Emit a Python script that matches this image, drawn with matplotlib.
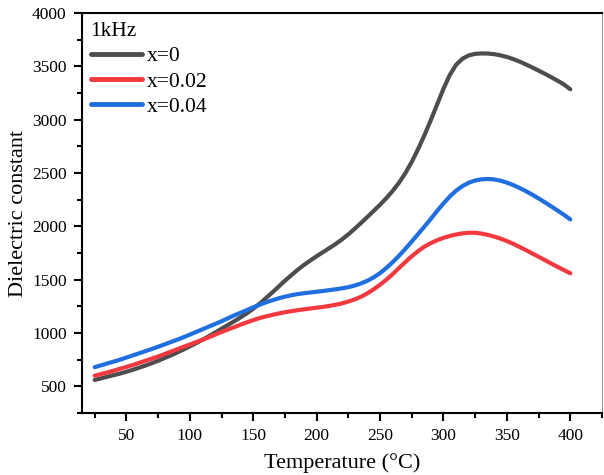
import matplotlib
matplotlib.use("Agg")
import matplotlib.pyplot as plt
from matplotlib.ticker import MultipleLocator

plt.rcParams['font.family'] = ['Liberation Serif', 'DejaVu Serif']

temperature = list(range(25, 401, 5))

eps_x0 = [560, 575, 590, 605, 620, 637, 655, 675, 695, 717, 740, 765, 790, 817, 845,
          875, 905, 937, 970, 1005, 1040, 1075, 1110, 1147, 1185, 1228, 1275, 1327,
          1380, 1435, 1490, 1542, 1592, 1638, 1680, 1720, 1758, 1796, 1835, 1878, 1925,
          1977, 2032, 2088, 2145, 2203, 2265, 2333, 2410, 2500, 2605, 2725, 2855, 2995,
          3143, 3290, 3420, 3515, 3572, 3603, 3617, 3621, 3620, 3614, 3603, 3588, 3568,
          3545, 3518, 3490, 3460, 3430, 3398, 3365, 3330, 3285]

eps_x002 = [600, 615, 630, 647, 665, 682, 700, 720, 740, 760, 780, 802, 825, 847, 870,
            892, 915, 937, 960, 985, 1010, 1033, 1055, 1078, 1100, 1121, 1140, 1156,
            1170, 1183, 1195, 1205, 1214, 1222, 1230, 1237, 1245, 1254, 1265, 1278, 1295,
            1315, 1340, 1372, 1410, 1453, 1500, 1553, 1610, 1666, 1720, 1768, 1810, 1843,
            1870, 1892, 1910, 1924, 1934, 1940, 1940, 1932, 1920, 1904, 1885, 1862, 1836,
            1807, 1777, 1746, 1715, 1683, 1651, 1620, 1590, 1560]

eps_x004 = [680, 697, 715, 732, 750, 770, 790, 810, 830, 850, 871, 893, 915, 937, 960,
            985, 1010, 1035, 1060, 1085, 1110, 1138, 1165, 1190, 1215, 1241, 1265, 1287,
            1307, 1325, 1341, 1354, 1365, 1373, 1380, 1387, 1394, 1402, 1410, 1419, 1430,
            1445, 1465, 1490, 1522, 1562, 1610, 1665, 1725, 1790, 1858, 1928, 1998, 2070,
            2145, 2215, 2280, 2335, 2378, 2410, 2430, 2441, 2444, 2440, 2428, 2410, 2387,
            2360, 2330, 2297, 2262, 2225, 2187, 2148, 2108, 2065]

labels = ["x=0", "x=0.02", "x=0.04"]
colors = ["#4d4d4d", "#f2393f", "#1f6fe0"]

fig = plt.figure(figsize=(6.04, 4.75), dpi=100)
ax = fig.add_axes([0.1358, 0.1305, 0.8609, 0.8421])

for y, lab, c in zip([eps_x0, eps_x002, eps_x004], labels, colors):
    ax.plot(temperature, y, color=c, lw=3.0, label=lab,
            solid_capstyle='round', solid_joinstyle='round')

ax.set_xlim(15, 425)
ax.set_ylim(250, 4000)
ax.xaxis.set_minor_locator(MultipleLocator(25))
ax.yaxis.set_major_locator(MultipleLocator(500))
ax.yaxis.set_minor_locator(MultipleLocator(250))
ax.set_xticks(range(50, 401, 50))
ax.set_yticks(range(500, 4001, 500))
ax.tick_params(axis='both', which='major', direction='out', length=6, width=1.5,
               labelsize=12.5, pad=5)
ax.tick_params(axis='both', which='minor', direction='out', length=3.5, width=1.5)
ax.tick_params(top=False, right=False, which='both')
for s in ax.spines.values():
    s.set_linewidth(1.5)
ax.spines['right'].set_linewidth(0.8)
ax.spines['right'].set_color('#999999')

ax.set_xlabel("Temperature (°C)", fontsize=16, labelpad=6)
ax.set_ylabel("Dielectric constant", fontsize=16, labelpad=3)

leg = ax.legend(title="1kHz", loc='upper left', frameon=False, fontsize=15.5,
                title_fontsize=15.5, handlelength=2.4, handletextpad=0.2,
                labelspacing=0.25, borderaxespad=0.2, borderpad=0.2)
leg._legend_box.align = "left"
for line in leg.get_lines():
    line.set_linewidth(3.5)

fig.savefig("out.png", dpi=100)
